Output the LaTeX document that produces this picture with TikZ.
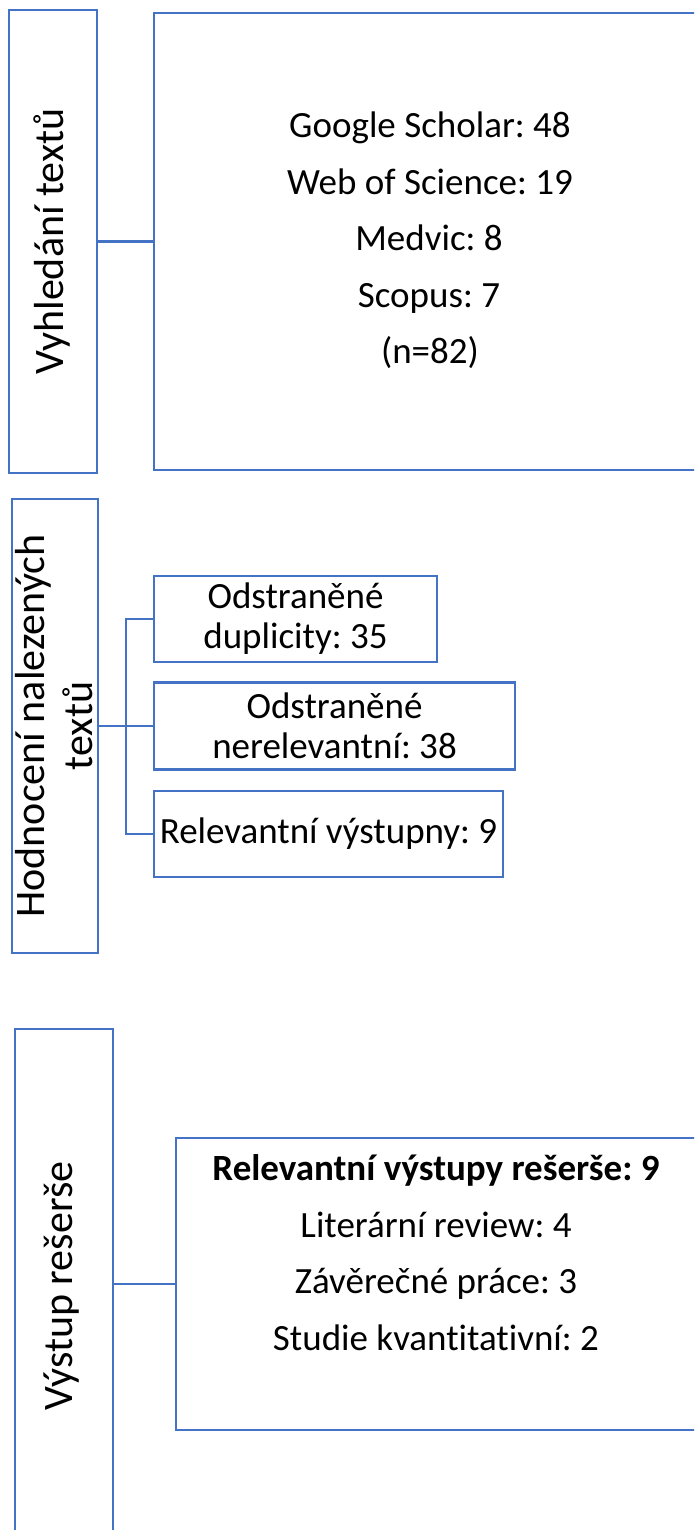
\documentclass[tikz,border=0pt]{standalone}
\usepackage{fontspec}
\setmainfont{Carlito}[Ligatures=NoCommon]
\frenchspacing
\definecolor{boxblue}{HTML}{4472C4}
\begin{document}
\begin{tikzpicture}[x=1pt,y=-1pt,
  box/.style={draw=boxblue, line width=2.5pt, inner sep=0pt, outer sep=0pt, fill=white},
  txt/.style={font=\fontsize{37}{40}\selectfont, inner sep=0pt, align=center},
  line/.style={font=\fontsize{37}{40}\selectfont, inner sep=0pt, anchor=base},
  lbl/.style={font=\fontsize{42}{48}\selectfont, rotate=90, inner sep=0pt, align=center},
  conn/.style={draw=boxblue, line width=2.5pt}]
\useasboundingbox (0,0) rectangle (694,1530);
\clip (0,0) rectangle (694,1530);

% Section 1
\node[box, minimum width=88pt, minimum height=463pt] (L1) at (53,241.5) {};
\node[lbl] (L1t) at (52,241.5) {Vyhledání textů};
\node[box, minimum width=552pt, minimum height=457pt] (C1) at (430,241.5) {};
\node[line] (g1) at (430,138) {Google Scholar: 48};
\node[line] (g2) at (430,194.5) {Web of Science: 19};
\node[line] (g3) at (429,251) {Medvic: 8};
\node[line] (g4) at (429,307) {Scopus: 7};
\node[line] (g5) at (430,363) {(n=82)};
\draw[conn] (L1.east) -- (C1.west);

% Section 2
\node[box, minimum width=86pt, minimum height=454pt] (L2) at (55,726) {};
\node[lbl] (L2t) at (54,726) {Hodnocení nalezených\\textů};
\node[box, txt, minimum width=283pt, minimum height=86pt] (A) at (295.5,619) {Odstraněné\\duplicity: 35};
\node[box, txt, minimum width=361pt, minimum height=87pt] (B) at (334.5,726) {Odstraněné\\nerelevantní: 38};
\node[box, txt, minimum width=349pt, minimum height=86pt] (Cc) at (328.5,834) {Relevantní výstupny: 9};
\coordinate (J) at (126,726);
\draw[conn] (A.west) -| (J) |- (Cc.west);
\draw[conn] (L2.east) -- (B.west);

% Section 3
\node[box, minimum width=98pt, minimum height=514pt] (L3) at (64,1286) {};
\node[lbl] (L3t) at (62,1286) {Výstup rešerše};
\node[box, minimum width=520pt, minimum height=292pt] (C3) at (436,1284) {};
\node[line, font=\fontsize{37}{40}\selectfont\bfseries] (r1) at (436,1180) {Relevantní výstupy rešerše: 9};
\node[line] (r2) at (436,1237) {Literární review: 4};
\node[line] (r3) at (436,1293) {Závěrečné práce: 3};
\node[line] (r4) at (436,1350) {Studie kvantitativní: 2};
\draw[conn] (L3.east |- C3.west) -- (C3.west);
\end{tikzpicture}
\end{document}
